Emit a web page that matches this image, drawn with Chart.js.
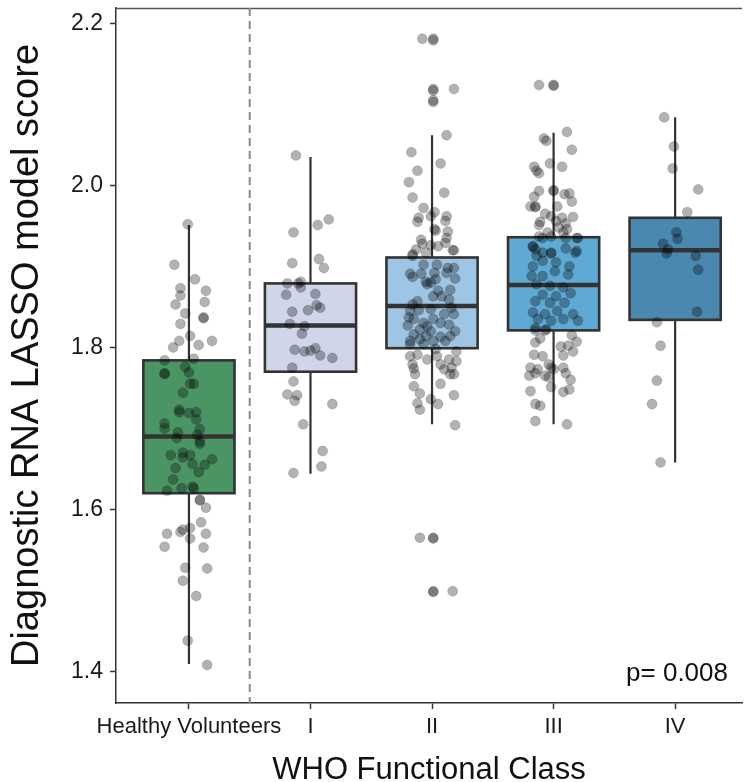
<!DOCTYPE html>
<html>
<head>
<meta charset="utf-8">
<script src="https://cdn.jsdelivr.net/npm/chart.js@4"></script>
<style>
  html, body { margin: 0; padding: 0; background: #fff; overflow: hidden; }
  #wrap { width: 748px; height: 782px; }
</style>
</head>
<body>
<div id="wrap"><canvas id="chart"></canvas></div>
<script>
// groups on the x axis
const categories = ['Healthy Volunteers', 'I', 'II', 'III', 'IV']
const yTicks = [1.4, 1.6, 1.8, 2.0, 2.2]
const pLabel = 'p= 0.008'

// box plot stats
const whiskerLow  = [1.409, 1.644, 1.705, 1.705, 1.658]
const q1          = [1.620, 1.770, 1.799, 1.821, 1.834]
const medians     = [1.690, 1.827, 1.851, 1.877, 1.920]
const q3          = [1.784, 1.879, 1.911, 1.936, 1.960]
const whiskerHigh = [1.951, 2.035, 2.062, 2.065, 2.084]
const boxColors = ['#4b9565', '#d0d6ea', '#9ec5e3', '#5eaad4', '#4a88b0']

// jittered points: [offset from group centre, score]
const hvPoints = [[-0.01,1.952],[-0.12,1.902],[0.05,1.884],[-0.07,1.873],[0.14,1.870],[-0.07,1.864],[0.13,1.856],[-0.11,1.853],[-0.03,1.842],[0.12,1.837],[0.12,1.836],[-0.07,1.829],[0.01,1.814],[-0.08,1.808],[0.08,1.803],[0.19,1.808],[-0.13,1.800],[-0.20,1.784],[0.04,1.786],[-0.20,1.768],[-0.20,1.767],[-0.03,1.776],[0.00,1.769],[0.01,1.755],[0.04,1.755],[-0.05,1.744],[-0.08,1.723],[-0.08,1.720],[0.00,1.719],[0.06,1.720],[0.06,1.711],[-0.20,1.706],[-0.20,1.700],[0.09,1.699],[-0.09,1.695],[0.07,1.692],[-0.10,1.688],[0.09,1.684],[0.09,1.681],[-0.15,1.667],[-0.05,1.670],[-0.05,1.664],[0.01,1.667],[0.19,1.662],[0.03,1.656],[0.13,1.655],[-0.11,1.651],[0.08,1.646],[-0.13,1.637],[-0.18,1.623],[-0.06,1.626],[0.03,1.628],[0.04,1.626],[0.09,1.612],[0.09,1.611],[0.14,1.602],[0.10,1.584],[0.01,1.577],[-0.05,1.575],[-0.07,1.572],[-0.18,1.570],[0.14,1.570],[0.01,1.564],[-0.20,1.554],[0.12,1.553],[-0.03,1.528],[0.15,1.527],[-0.05,1.512],[0.06,1.493],[-0.01,1.438],[0.15,1.408]]

const fc1Points = [[-0.12,2.037],[0.15,1.958],[0.06,1.951],[-0.14,1.942],[-0.15,1.904],[0.07,1.909],[0.11,1.898],[-0.19,1.879],[-0.10,1.879],[-0.08,1.881],[-0.08,1.874],[-0.20,1.865],[0.04,1.866],[0.05,1.852],[0.08,1.849],[-0.02,1.846],[-0.15,1.844],[-0.17,1.829],[-0.05,1.826],[-0.07,1.817],[-0.13,1.797],[-0.05,1.795],[0.00,1.796],[0.04,1.799],[0.08,1.790],[0.18,1.787],[-0.15,1.775],[-0.14,1.758],[-0.19,1.742],[-0.11,1.741],[-0.13,1.734],[0.18,1.730],[-0.06,1.705],[0.10,1.672],[0.09,1.653],[-0.14,1.645]]

const fc2Points = [[-0.08,2.181],[0.01,2.181],[0.01,2.179],[0.01,2.119],[0.01,2.117],[0.18,2.119],[0.01,2.105],[0.01,2.103],[0.12,2.062],[-0.17,2.041],[0.07,2.027],[-0.12,2.018],[-0.19,2.004],[0.10,1.991],[-0.16,1.985],[-0.07,1.972],[-0.11,1.960],[-0.12,1.955],[0.02,1.967],[-0.01,1.962],[0.12,1.962],[0.11,1.956],[0.02,1.946],[0.03,1.944],[0.13,1.943],[-0.09,1.933],[-0.08,1.928],[0.12,1.935],[0.11,1.929],[0.05,1.925],[-0.01,1.926],[-0.13,1.921],[-0.05,1.917],[-0.16,1.915],[-0.16,1.913],[0.17,1.920],[0.18,1.920],
  [-0.07,1.902],[0.04,1.902],[0.13,1.898],[0.18,1.898],[-0.18,1.891],[-0.09,1.891],[0.02,1.892],[0.12,1.892],[-0.16,1.887],[0.19,1.885],[-0.05,1.881],[-0.01,1.880],[0.03,1.884],[-0.04,1.878],[0.15,1.871],[0.05,1.870],[0.01,1.863],[0.08,1.863],[0.14,1.859],[-0.12,1.857],[-0.16,1.853],[0.16,1.849],[-0.18,1.845],[-0.11,1.846],[-0.01,1.847],[0.10,1.841],[0.18,1.841],[-0.19,1.837],[-0.15,1.835],[-0.07,1.830],[0.01,1.835],[0.07,1.830],[-0.20,1.827],[-0.04,1.826],[0.14,1.828],[-0.10,1.822],[-0.01,1.820],[0.19,1.820],[-0.15,1.816],[-0.05,1.814],[0.07,1.813],[0.15,1.814],[-0.18,1.808],[-0.10,1.810],[0.01,1.808],[0.11,1.808],[-0.18,1.804],[-0.07,1.804],[0.03,1.798],[0.20,1.795],[-0.18,1.789],[-0.12,1.791],[-0.04,1.785],[0.04,1.789],[0.14,1.785],[0.20,1.783],[-0.16,1.779],[0.07,1.779],[-0.15,1.774],[0.10,1.773],[0.16,1.775],[-0.14,1.767],[0.15,1.767],[0.18,1.767],[-0.15,1.752],[0.07,1.755],[-0.10,1.743],[0.18,1.741],[-0.01,1.736],[-0.12,1.731],[0.05,1.730],[-0.10,1.723],[0.19,1.704],
  [-0.10,1.565],[0.01,1.565],[0.01,1.564],[0.01,1.499],[0.01,1.498],[0.17,1.499]]

const fc3Points = [[-0.12,2.124],[0.00,2.124],[0.00,2.123],[0.11,2.066],[-0.08,2.058],[-0.06,2.055],[0.15,2.044],[-0.03,2.027],[0.07,2.023],[-0.16,2.023],[-0.12,2.015],[-0.14,2.018],[-0.12,1.993],[0.00,1.994],[0.00,1.993],[0.09,1.989],[0.13,1.990],[-0.16,1.986],[0.15,1.980],[-0.19,1.974],[-0.15,1.974],[-0.15,1.973],[0.03,1.974],[-0.07,1.965],[-0.02,1.962],[0.07,1.960],[0.16,1.961],[-0.11,1.955],[0.02,1.956],[0.10,1.953],[-0.12,1.951],[0.04,1.948],[0.11,1.946],[-0.05,1.942],[0.08,1.942],[-0.12,1.937],[0.19,1.935],[-0.02,1.937],[-0.17,1.924],[-0.15,1.921],[-0.09,1.917],[-0.02,1.917],[0.10,1.922],[0.19,1.919],
  [-0.17,1.925],[-0.09,1.935],[0.10,1.935],[0.20,1.935],[-0.14,1.913],[-0.02,1.916],[0.18,1.917],[-0.17,1.900],[-0.09,1.907],[0.02,1.905],[0.13,1.900],[-0.18,1.888],[-0.09,1.888],[0.01,1.894],[0.12,1.890],[-0.14,1.878],[-0.03,1.876],[0.08,1.874],[-0.09,1.865],[0.02,1.863],[0.14,1.867],[-0.15,1.857],[-0.03,1.855],[0.09,1.855],[-0.17,1.843],[-0.07,1.841],[0.03,1.845],[0.16,1.841],[-0.13,1.835],[-0.02,1.833],[0.08,1.835],[0.20,1.833],[-0.15,1.824],[-0.06,1.822],
  [-0.15,1.821],[-0.07,1.821],[0.15,1.815],[0.19,1.807],[-0.15,1.806],[-0.11,1.811],[0.06,1.801],[0.12,1.802],[0.16,1.795],[0.08,1.790],[-0.16,1.791],[-0.09,1.789],[-0.04,1.779],[-0.19,1.775],[-0.13,1.773],[-0.02,1.775],[0.00,1.773],[0.08,1.775],[-0.20,1.765],[-0.15,1.768],[-0.07,1.765],[-0.04,1.763],[0.10,1.768],[0.14,1.760],[-0.02,1.751],[-0.19,1.746],[0.08,1.745],[0.13,1.748],[-0.15,1.730],[-0.11,1.728],[-0.15,1.709],[0.11,1.705]]

const fc4Points = [[-0.09,2.084],[-0.01,2.048],[-0.02,2.021],[0.19,1.995],[0.10,1.967],[0.01,1.942],[0.02,1.934],[-0.10,1.928],[-0.06,1.921],[-0.07,1.916],[0.17,1.913],[0.19,1.896],[0.18,1.844],[-0.15,1.831],[-0.12,1.802],[-0.15,1.759],[-0.19,1.730],[-0.12,1.658]]

const groupPoints = [hvPoints, fc1Points, fc2Points, fc3Points, fc4Points]

const FONT = '"Liberation Sans", Arial, Helvetica, sans-serif'
const INK = '#333333'
const BOX_HALF = 0.375

// boxes, whiskers, dashed separator, top border
const boxPlugin = {
  id: 'boxes',
  beforeDatasetsDraw(chart) {
    const { ctx, chartArea, scales: { x, y } } = chart
    ctx.save()
    // top border of the panel
    ctx.strokeStyle = '#555'
    ctx.lineWidth = 1.4
    ctx.beginPath()
    ctx.moveTo(chartArea.left, chartArea.top + 0.5)
    ctx.lineTo(chartArea.right, chartArea.top + 0.5)
    ctx.stroke()

    // dashed separator between healthy and patients
    const sx = x.getPixelForValue(0.5)
    ctx.strokeStyle = '#8a8a8a'
    ctx.lineWidth = 2
    ctx.setLineDash([8, 5])
    ctx.beginPath()
    ctx.moveTo(sx, chartArea.top)
    ctx.lineTo(sx, chartArea.bottom)
    ctx.stroke()
    ctx.setLineDash([])

    categories.forEach((c, i) => {
      const cx = x.getPixelForValue(i)
      const left = x.getPixelForValue(i - BOX_HALF)
      const right = x.getPixelForValue(i + BOX_HALF)
      // whisker
      ctx.strokeStyle = INK
      ctx.lineWidth = 2.2
      ctx.beginPath()
      ctx.moveTo(cx, y.getPixelForValue(whiskerLow[i]))
      ctx.lineTo(cx, y.getPixelForValue(whiskerHigh[i]))
      ctx.stroke()
      // box
      const top = y.getPixelForValue(q3[i])
      const bot = y.getPixelForValue(q1[i])
      ctx.fillStyle = boxColors[i]
      ctx.fillRect(left, top, right - left, bot - top)
      ctx.lineWidth = 2.6
      ctx.strokeRect(left, top, right - left, bot - top)
      // median
      const my = y.getPixelForValue(medians[i])
      ctx.lineWidth = 4.5
      ctx.beginPath()
      ctx.moveTo(left, my)
      ctx.lineTo(right, my)
      ctx.stroke()
    })
    ctx.restore()
  },
  afterDraw(chart) {
    const { ctx, chartArea } = chart
    ctx.save()
    ctx.fillStyle = '#111'
    ctx.font = '26px ' + FONT
    ctx.textAlign = 'right'
    ctx.textBaseline = 'alphabetic'
    ctx.fillText(pLabel, chartArea.right - 14, chartArea.bottom - 22)
    ctx.restore()
  }
}

const datasets = groupPoints.map((pts, i) => ({
  label: categories[i],
  data: pts.map(p => ({ x: i + p[0], y: p[1] })),
  pointRadius: 5,
  pointHoverRadius: 5,
  backgroundColor: 'rgba(0,0,0,0.3)',
  borderColor: 'rgba(0,0,0,0.14)',
  borderWidth: 1
}))

function noPad(s) {
  s.paddingTop = 0
  s.paddingBottom = 0
  s.paddingLeft = 0
  s.paddingRight = 0
}

new Chart(document.getElementById('chart'), {
  type: 'scatter',
  data: { datasets },
  options: {
    responsive: true,
    maintainAspectRatio: false,
    animation: false,
    events: [],
    layout: { padding: { top: 8, right: 0, left: 0, bottom: 0 } },
    plugins: { legend: { display: false }, tooltip: { enabled: false } },
    scales: {
      x: {
        type: 'linear',
        min: -0.6,
        max: 4.55,
        afterFit(s) { s.height = 79; noPad(s) },
        afterBuildTicks(s) { s.ticks = categories.map((c, i) => ({ value: i })) },
        ticks: {
          autoSkip: false,
          maxRotation: 0,
          padding: 5,
          color: '#1a1a1a',
          font: { family: FONT, size: 22 },
          callback: (v, i) => categories[i]
        },
        grid: { drawOnChartArea: false, drawTicks: true, tickLength: 6, color: INK, tickWidth: 1.5 },
        border: { display: true, color: INK, width: 1.5 },
        title: {
          display: true,
          text: 'WHO Functional Class',
          color: '#111',
          font: { family: FONT, size: 31, lineHeight: 1 },
          padding: { top: 0, bottom: -4 }
        }
      },
      y: {
        min: 1.361,
        max: 2.219,
        afterFit(s) { s.width = 116; noPad(s) },
        afterBuildTicks(s) { s.ticks = yTicks.map(v => ({ value: v })) },
        ticks: {
          padding: 7,
          color: '#1a1a1a',
          font: { family: FONT, size: 23 },
          callback: v => v.toFixed(1)
        },
        grid: { drawOnChartArea: false, drawTicks: true, tickLength: 6, color: INK, tickWidth: 1.5 },
        border: { display: true, color: INK, width: 1.5 },
        title: {
          display: true,
          text: 'Diagnostic RNA LASSO model score',
          color: '#111',
          font: { family: FONT, size: 38, lineHeight: 1 },
          padding: { top: 9, bottom: 0 }
        }
      }
    }
  },
  plugins: [boxPlugin]
})
</script>
</body>
</html>
